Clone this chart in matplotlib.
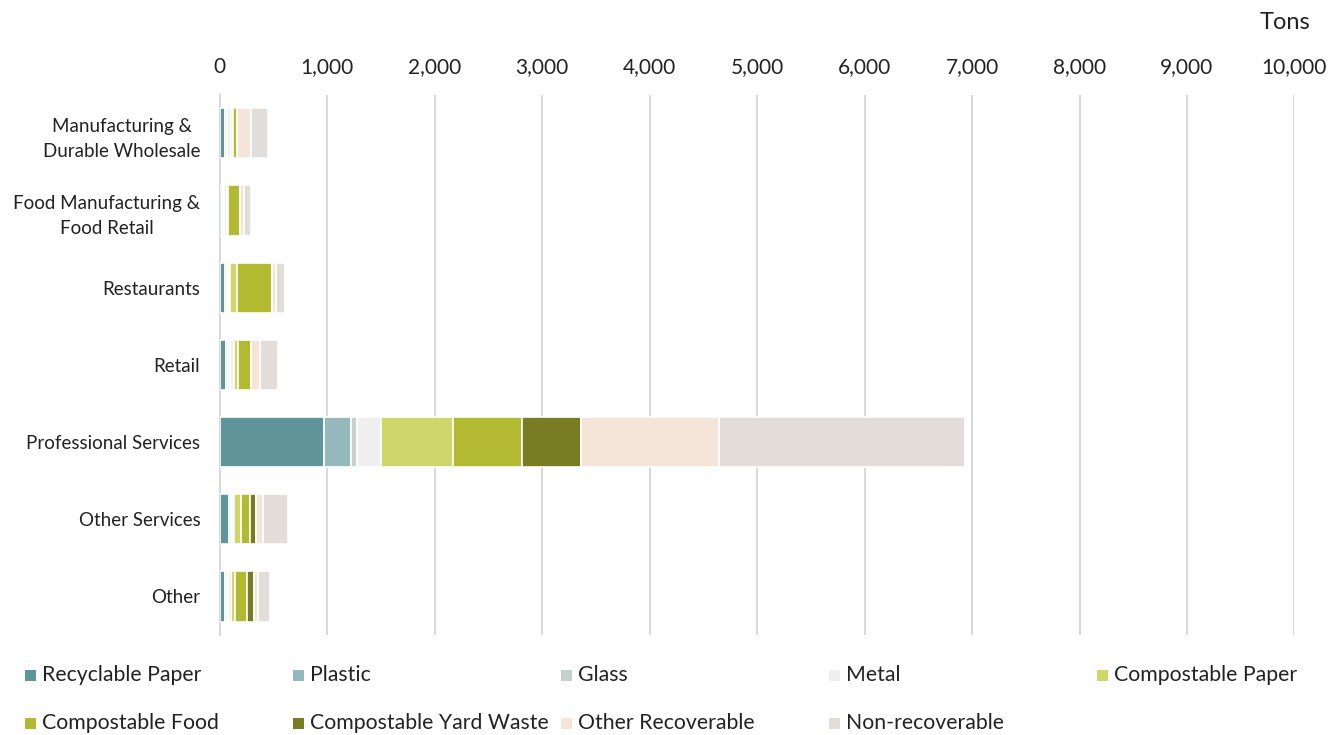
import matplotlib.pyplot as plt
from matplotlib.patches import Rectangle
import numpy as np

plt.rcParams['font.family'] = ['Lato', 'DejaVu Sans']

# Sectors, top to bottom
sectors = ["Manufacturing &\nDurable Wholesale", "Food Manufacturing &\nFood Retail",
           "Restaurants", "Retail", "Professional Services", "Other Services", "Other"]

materials = ["Recyclable Paper", "Plastic", "Glass", "Metal", "Compostable Paper",
             "Compostable Food", "Compostable Yard Waste", "Other Recoverable", "Non-recoverable"]

colors = ["#5f9499", "#94b8bb", "#c5d1cd", "#eeefee", "#cfd66a",
          "#b1ba31", "#7a7c23", "#f5e4d8", "#e2ddd9"]

# Tons by material, one value per sector
recyclable_paper = [49, 21, 50, 59, 968, 87, 49]
plastic = [16, 12, 20, 19, 255, 20, 20]
glass = [3, 8, 8, 15, 56, 8, 8]
metal = [32, 24, 15, 37, 226, 15, 23]
compostable_paper = [27, 14, 68, 44, 667, 63, 46]
compostable_food = [38, 107, 326, 117, 640, 89, 108]
compostable_yard = [0, 0, 0, 0, 549, 59, 60]
other_recoverable = [130, 44, 34, 88, 1285, 62, 46]
non_recoverable = [158, 59, 87, 164, 2291, 233, 106]

series = [recyclable_paper, plastic, glass, metal, compostable_paper,
          compostable_food, compostable_yard, other_recoverable, non_recoverable]

fig = plt.figure(figsize=(13.4, 7.35), dpi=100)
ax = fig.add_axes([0.164, 0.136, 0.802, 0.735])

y = np.arange(len(sectors))
left = np.zeros(len(sectors))
for name, vals, c in zip(materials, series, colors):
    vals = np.array(vals, dtype=float)
    ax.barh(y, vals, left=left, height=0.65, color=c, edgecolor="white",
            linewidth=1.2, label=name, zorder=3)
    left += vals

ax.set_xlim(0, 10000)
ax.set_ylim(len(sectors) - 0.5, -0.5)
ax.set_yticks(y)
ax.set_yticklabels(sectors, fontsize=13.5, color="#222222",
                   multialignment="center", linespacing=1.6)
ax.set_xticks(np.arange(0, 10001, 1000))
ax.set_xticklabels([f"{v:,}" for v in range(0, 10001, 1000)], fontsize=15, color="#222222")
ax.xaxis.tick_top()
ax.tick_params(axis="y", length=0, pad=14)
ax.tick_params(axis="x", length=0, pad=12.5)
ax.grid(axis="x", color="#d9d9d9", linewidth=1.5, zorder=0)
for s in ["top", "right", "bottom"]:
    ax.spines[s].set_visible(False)
ax.spines["left"].set_color("#d9d9d9")
ax.spines["left"].set_linewidth(1.5)

fig.text(0.978, 0.97, "Tons", ha="right", va="center", fontsize=17, color="#222222")

# Legend laid out row by row in five equal columns
col_x = [25, 293, 561, 829, 1097]
row_y = [675, 723]
W, H = 1340, 735
sq = 11
for i, (name, c) in enumerate(zip(materials, colors)):
    r, k = divmod(i, 5)
    x0 = col_x[k] / W
    yc = 1 - row_y[r] / H
    fig.patches.append(Rectangle((x0, yc - sq / 2 / H), sq / W, sq / H,
                                 transform=fig.transFigure, facecolor=c, edgecolor="none"))
    fig.text(x0 + (sq + 6) / W, yc, name, ha="left", va="center",
             fontsize=15.3, color="#222222")

fig.savefig("out.png", dpi=100, facecolor="white")
